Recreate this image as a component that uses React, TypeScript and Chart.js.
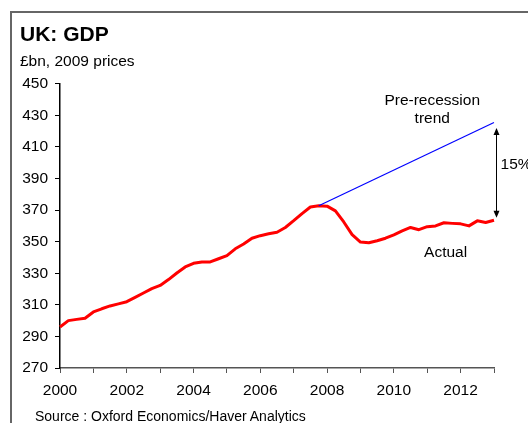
import React, { useEffect, useRef } from 'react';
import { Chart, registerables } from 'chart.js';

Chart.register(...registerables);

const FONT = "'Liberation Sans', Arial, Helvetica, sans-serif";

// Quarterly periods, 2000 Q1 .. 2013 Q1
const quarterLabels: string[] = [
  '2000 Q1', '2000 Q2', '2000 Q3', '2000 Q4',
  '2001 Q1', '2001 Q2', '2001 Q3', '2001 Q4',
  '2002 Q1', '2002 Q2', '2002 Q3', '2002 Q4',
  '2003 Q1', '2003 Q2', '2003 Q3', '2003 Q4',
  '2004 Q1', '2004 Q2', '2004 Q3', '2004 Q4',
  '2005 Q1', '2005 Q2', '2005 Q3', '2005 Q4',
  '2006 Q1', '2006 Q2', '2006 Q3', '2006 Q4',
  '2007 Q1', '2007 Q2', '2007 Q3', '2007 Q4',
  '2008 Q1', '2008 Q2', '2008 Q3', '2008 Q4',
  '2009 Q1', '2009 Q2', '2009 Q3', '2009 Q4',
  '2010 Q1', '2010 Q2', '2010 Q3', '2010 Q4',
  '2011 Q1', '2011 Q2', '2011 Q3', '2011 Q4',
  '2012 Q1', '2012 Q2', '2012 Q3', '2012 Q4',
  '2013 Q1',
];

// Actual GDP, £bn 2009 prices
const actualGdp: number[] = [
  296, 300, 300.8, 301.5,
  305.5, 307.5, 309.3, 310.6,
  312, 314.7, 317.5, 320.3,
  322.3, 326, 330.2, 334,
  336.3, 337.2, 337.2, 339.2,
  341.2, 345.5, 348.5, 352.2,
  353.8, 355, 356, 359,
  363.3, 367.8, 372, 372.8,
  372.5, 369.5, 362.5, 354.5,
  349.8, 349.3, 350.6, 352.2,
  354.3, 356.8, 359, 357.6,
  359.5, 360, 362, 361.6,
  361.3, 360, 363.2, 362.2,
  363.6,
];

// Pre-recession trend (start and end)
const trendPeriods: string[] = ['2007 Q4', '2013 Q1'];
const trendValues: number[] = [372.8, 425.5];

// Axis ticks
const xTickYears: string[] = ['2000', '2002', '2004', '2006', '2008', '2010', '2012'];
const yMin = 270;
const yMax = 450;
const yStep = 20;

// Annotation texts and anchors (category index, value)
const gapLabel = '15%';
const arrowX = 52.2;
const arrowTop = 422;
const arrowBottom = 365.2;
const gapLabelPos = { x: 52.78, y: 398.7 };
const trendLabel = ['Pre-recession', 'trend'];
const trendLabelPos = { x: 44.6, y: [439.4, 427.8] };
const actualLabel = 'Actual';
const actualLabelPos = { x: 46.2, y: 342.9 };

const annotationPlugin = {
  id: 'gdpAnnotations',
  afterDraw(chart: any) {
    const { ctx, scales } = chart;
    const xs = scales.x;
    const ys = scales.y;
    ctx.save();
    ctx.fillStyle = '#000';
    ctx.font = `15.5px ${FONT}`;
    ctx.textBaseline = 'middle';
    ctx.textAlign = 'center';
    trendLabel.forEach((t, i) => {
      ctx.fillText(t, xs.getPixelForValue(trendLabelPos.x), ys.getPixelForValue(trendLabelPos.y[i]));
    });
    ctx.fillText(actualLabel, xs.getPixelForValue(actualLabelPos.x), ys.getPixelForValue(actualLabelPos.y));
    ctx.textAlign = 'left';
    ctx.fillText(gapLabel, xs.getPixelForValue(gapLabelPos.x), ys.getPixelForValue(gapLabelPos.y));

    // double-headed arrow
    const ax = Math.round(xs.getPixelForValue(arrowX)) + 0.5;
    const y1 = ys.getPixelForValue(arrowTop);
    const y2 = ys.getPixelForValue(arrowBottom);
    ctx.strokeStyle = '#000';
    ctx.lineWidth = 1;
    ctx.beginPath();
    ctx.moveTo(ax, y1 + 4);
    ctx.lineTo(ax, y2 - 4);
    ctx.stroke();
    ctx.beginPath();
    ctx.moveTo(ax, y1);
    ctx.lineTo(ax - 3, y1 + 7);
    ctx.lineTo(ax + 3, y1 + 7);
    ctx.closePath();
    ctx.fill();
    ctx.beginPath();
    ctx.moveTo(ax, y2);
    ctx.lineTo(ax - 3, y2 - 7);
    ctx.lineTo(ax + 3, y2 - 7);
    ctx.closePath();
    ctx.fill();
    ctx.restore();
  },
};

export default function App() {
  const canvasRef = useRef<HTMLCanvasElement | null>(null);

  useEffect(() => {
    if (!canvasRef.current) return;
    Chart.defaults.font.family = FONT;
    const chart = new Chart(canvasRef.current, {
      type: 'line',
      data: {
        labels: quarterLabels,
        datasets: [
          {
            label: 'Pre-recession trend',
            data: trendPeriods.map((p, i) => ({ x: p, y: trendValues[i] })),
            borderColor: '#0000ff',
            borderWidth: 1.2,
            pointRadius: 0,
            tension: 0,
            spanGaps: true,
          },
          {
            label: 'Actual',
            data: actualGdp,
            borderColor: '#ff0000',
            borderWidth: 3,
            pointRadius: 0,
            tension: 0,
            borderJoinStyle: 'round',
          },
        ],
      },
      options: {
        animation: false,
        responsive: false,
        maintainAspectRatio: false,
        layout: { padding: { left: 20, right: 34, top: 0, bottom: 24 } },
        plugins: {
          legend: { display: false },
          tooltip: { enabled: false },
          title: {
            display: true,
            text: 'UK: GDP',
            align: 'start',
            color: '#000',
            font: { size: 21, weight: 'bold', family: FONT },
            padding: { top: 23, bottom: 0 },
          },
          subtitle: {
            display: true,
            text: '£bn, 2009 prices',
            align: 'start',
            color: '#000',
            font: { size: 15.5, family: FONT },
            padding: { top: 4, bottom: 13 },
          },
        },
        scales: {
          x: {
            type: 'category',
            offset: false,
            grid: { display: true, drawOnChartArea: false, drawTicks: true, tickLength: 5, color: '#555' },
            border: { display: true, color: '#555', width: 1.5 },
            ticks: {
              autoSkip: false,
              maxRotation: 0,
              minRotation: 0,
              padding: 8,
              color: '#000',
              font: { size: 15.5, family: FONT },
              callback: (_v: any, index: number) => {
                const lab = quarterLabels[index];
                if (!lab || !lab.endsWith('Q1')) return null;
                const yr = lab.slice(0, 4);
                return xTickYears.includes(yr) ? yr : '';
              },
            },
            afterFit: (s: any) => { s.height = 31; },
          },
          y: {
            min: yMin,
            max: yMax,
            grid: { display: true, drawOnChartArea: false, drawTicks: true, tickLength: 5, color: '#000' },
            border: { display: true, color: '#000', width: 1.5 },
            ticks: {
              stepSize: yStep,
              padding: 7,
              color: '#000',
              font: { size: 15.5, family: FONT },
            },
            afterFit: (s: any) => { s.width = 40; },
          },
        },
      },
      plugins: [annotationPlugin],
    } as any);
    return () => chart.destroy();
  }, []);

  return (
    <div
      style={{
        position: 'fixed',
        left: 0,
        top: 0,
        width: 528,
        height: 423,
        overflow: 'hidden',
        background: '#fff',
      }}
    >
      <div
        style={{
          position: 'absolute',
          left: 10,
          top: 11,
          width: 1000,
          height: 1000,
          border: '2px solid #666',
        }}
      />
      <canvas
        ref={canvasRef}
        width={528}
        height={423}
        style={{ position: 'absolute', left: 0, top: 0, width: 528, height: 423 }}
      />
      <div
        style={{
          position: 'absolute',
          left: 35,
          top: 408,
          fontFamily: FONT,
          fontSize: 14,
          lineHeight: '16px',
          color: '#000',
          whiteSpace: 'nowrap',
        }}
      >
        Source : Oxford Economics/Haver Analytics
      </div>
    </div>
  );
}
